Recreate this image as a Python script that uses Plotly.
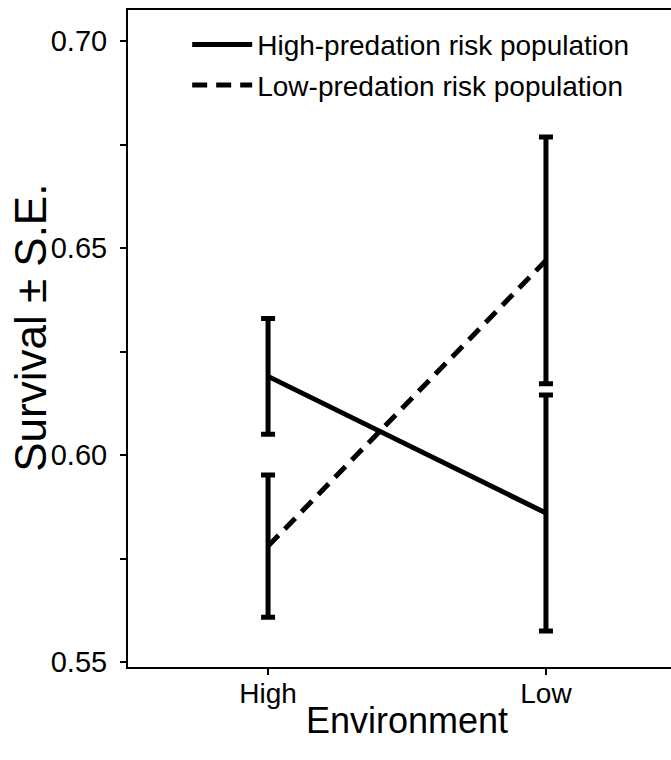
import plotly.graph_objects as go

environments = ["High", "Low"]
high_pred_mean = [0.619, 0.586]
high_pred_se = [0.014, 0.0285]
low_pred_mean = [0.578, 0.647]
low_pred_se = [0.0172, 0.0298]
series_names = ["High-predation risk population", "Low-predation risk population"]
y_ticks = [0.55, 0.60, 0.65, 0.70]
y_tick_labels = ["0.55", "0.60", "0.65", "0.70"]
y_minor_ticks = [0.575, 0.625, 0.675]
x_title = "Environment"
y_title = "Survival ± S.E."

FONT = "Liberation Sans, Arial, sans-serif"

fig = go.Figure()
fig.add_trace(go.Scatter(
    x=environments, y=high_pred_mean, mode="lines", name=series_names[0],
    legendgroup="a",
    line=dict(color="black", width=5),
    error_y=dict(type="data", array=high_pred_se, visible=True, color="black", thickness=5, width=7),
))
fig.add_trace(go.Scatter(
    x=environments, y=low_pred_mean, mode="lines", name=series_names[1],
    legendgroup="b",
    line=dict(color="black", width=5, dash="15px,9px"),
    error_y=dict(type="data", array=low_pred_se, visible=True, color="black", thickness=5, width=7),
))

fig.add_annotation(
    text=y_title, textangle=-90, showarrow=False,
    xref="paper", yref="paper", x=-0.179, y=0.516,
    xanchor="center", yanchor="middle",
    font=dict(size=44, family=FONT, color="black"),
)
fig.add_annotation(
    text=x_title, showarrow=False,
    xref="paper", yref="paper", x=0.514, y=-0.081,
    xanchor="center", yanchor="middle",
    font=dict(size=36, family=FONT, color="black"),
)

fig.update_layout(
    width=671, height=760,
    margin=dict(l=128, r=0, t=10, b=93),
    paper_bgcolor="white", plot_bgcolor="white",
    font=dict(family=FONT, color="black"),
    legend=dict(x=0.109, y=0.985, xanchor="left", yanchor="top",
                font=dict(size=28, family=FONT), bgcolor="rgba(0,0,0,0)",
                itemwidth=60, tracegroupgap=1, traceorder="grouped"),
    xaxis=dict(
        type="category", range=[-0.504, 1.45],
        showline=True, linecolor="black", linewidth=2, mirror=True,
        ticks="outside", ticklen=6, tickwidth=2, tickcolor="black",
        tickfont=dict(size=28), showgrid=False, zeroline=False,
        ticklabelstandoff=-6,
    ),
    yaxis=dict(
        range=[0.5488, 0.7075],
        tickvals=y_ticks, ticktext=y_tick_labels,
        minor=dict(tickvals=y_minor_ticks, ticks="outside", ticklen=6, tickwidth=2, tickcolor="black"),
        showline=True, linecolor="black", linewidth=2, mirror=False,
        ticks="outside", ticklen=6, tickwidth=2, tickcolor="black",
        tickfont=dict(size=29), showgrid=False, zeroline=False,
        ticklabelstandoff=7,
    ),
)

fig.write_html(
    "out.html",
    config={"displayModeBar": False},
    post_script="document.body.style.margin='0';document.body.style.overflow='hidden';",
)
